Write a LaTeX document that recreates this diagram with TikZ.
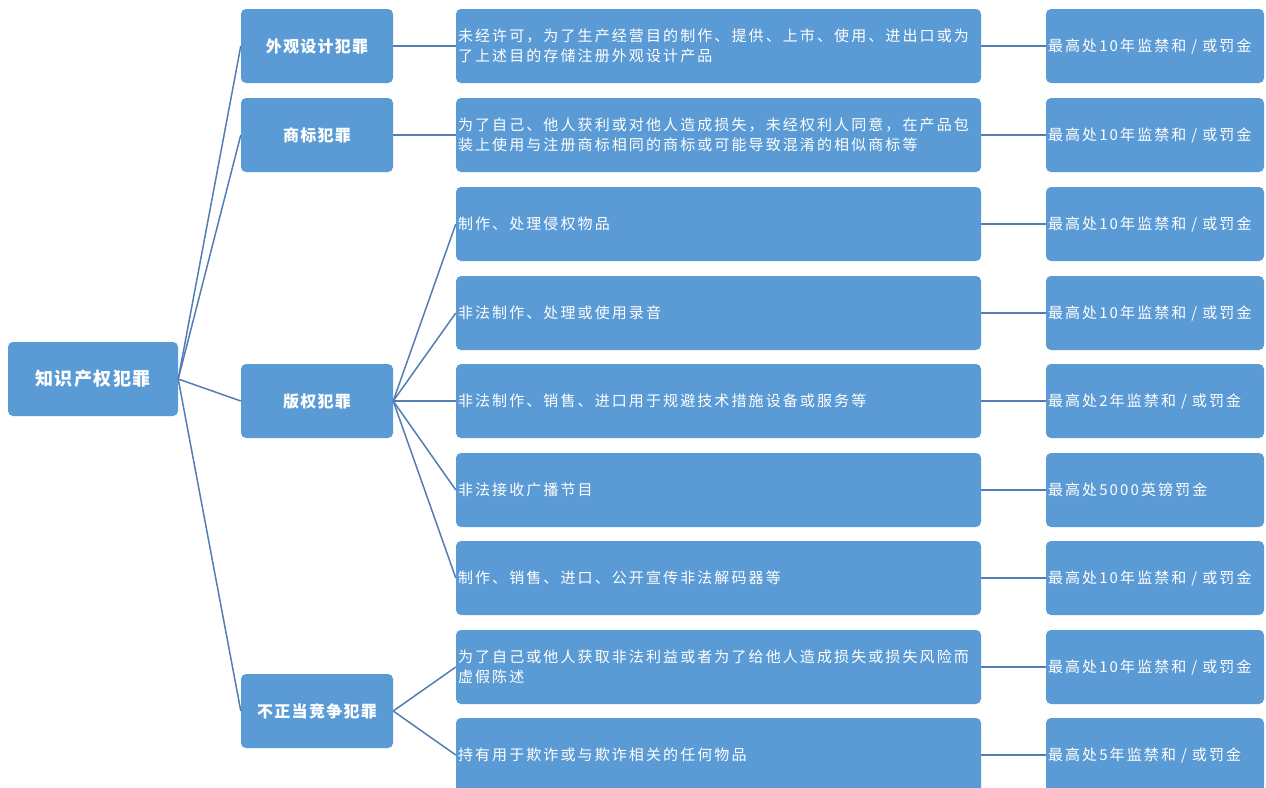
\documentclass[tikz,border=0pt]{standalone}
\usepackage{fontspec}
\setmainfont{Noto Sans CJK SC}
\newfontfamily\cjkfont[LetterSpace=14]{Noto Sans CJK SC}
\newfontfamily\cjkboldfont[LetterSpace=8]{Noto Sans CJK SC}
\definecolor{boxblue}{RGB}{91,155,213}
\definecolor{linkblue}{RGB}{84,125,180}
\newcommand{\descfont}{\cjkfont\fontsize{15}{20}\selectfont}
\newcommand{\catfont}{\cjkboldfont\bfseries\fontsize{16}{20}\selectfont}
\newcommand{\rootfont}{\cjkboldfont\bfseries\fontsize{18}{22}\selectfont}
\tikzset{
  box/.style={fill=boxblue, rounded corners=5pt, text=white, minimum height=74pt, inner ysep=0pt},
  rootbox/.style={box, minimum width=170pt, font=\rootfont},
  catbox/.style={box, minimum width=152pt, font=\catfont},
  descbox/.style={box, text width=521pt, inner xsep=2pt, align=left, font=\descfont},
  penbox/.style={box, text width=214pt, inner xsep=2pt, align=left, font=\descfont},
  link/.style={draw=linkblue, line width=1.5pt}
}
\begin{document}
\begin{tikzpicture}[x=1pt,y=-1pt]
\path[use as bounding box, clip] (0,0) rectangle (1266,787);
\fill[white] (0,0) rectangle (1266,787);
% root
\node[rootbox] (root) at (93,379) {知识产权犯罪};
% categories
\node[catbox] (c1) at (317,46) {外观设计犯罪};
\node[catbox] (c2) at (317,135) {商标犯罪};
\node[catbox] (c3) at (317,401) {版权犯罪};
\node[catbox] (c4) at (317,711) {不正当竞争犯罪};
% descriptions
\node[descbox] (d1) at (718.5,46) {未经许可，为了生产经营目的制作、提供、上市、使用、进出口或为\\了上述目的存储注册外观设计产品};
\node[descbox] (d2) at (718.5,135) {为了自己、他人获利或对他人造成损失，未经权利人同意，在产品包\\装上使用与注册商标相同的商标或可能导致混淆的相似商标等};
\node[descbox] (d3) at (718.5,224) {制作、处理侵权物品};
\node[descbox] (d4) at (718.5,313) {非法制作、处理或使用录音};
\node[descbox] (d5) at (718.5,401) {非法制作、销售、进口用于规避技术措施设备或服务等};
\node[descbox] (d6) at (718.5,490) {非法接收广播节目};
\node[descbox] (d7) at (718.5,578) {制作、销售、进口、公开宣传非法解码器等};
\node[descbox] (d8) at (718.5,667) {为了自己或他人获取非法利益或者为了给他人造成损失或损失风险而\\虚假陈述};
\node[descbox] (d9) at (718.5,755) {持有用于欺诈或与欺诈相关的任何物品};
% penalties
\node[penbox] (p1) at (1155,46) {最高处10年监禁和 / 或罚金};
\node[penbox] (p2) at (1155,135) {最高处10年监禁和 / 或罚金};
\node[penbox] (p3) at (1155,224) {最高处10年监禁和 / 或罚金};
\node[penbox] (p4) at (1155,313) {最高处10年监禁和 / 或罚金};
\node[penbox] (p5) at (1155,401) {最高处2年监禁和 / 或罚金};
\node[penbox] (p6) at (1155,490) {最高处5000英镑罚金};
\node[penbox] (p7) at (1155,578) {最高处10年监禁和 / 或罚金};
\node[penbox] (p8) at (1155,667) {最高处10年监禁和 / 或罚金};
\node[penbox] (p9) at (1155,755) {最高处5年监禁和 / 或罚金};
% connectors
\foreach \c in {c1,c2,c3,c4} \draw[link] (root.east) -- (\c.west);
\draw[link] (c1.east) -- (d1.west);
\draw[link] (c2.east) -- (d2.west);
\foreach \d in {d3,d4,d5,d6,d7} \draw[link] (c3.east) -- (\d.west);
\foreach \d in {d8,d9} \draw[link] (c4.east) -- (\d.west);
\foreach \i in {1,...,9} \draw[link] (d\i.east) -- (p\i.west);
\end{tikzpicture}
\end{document}
